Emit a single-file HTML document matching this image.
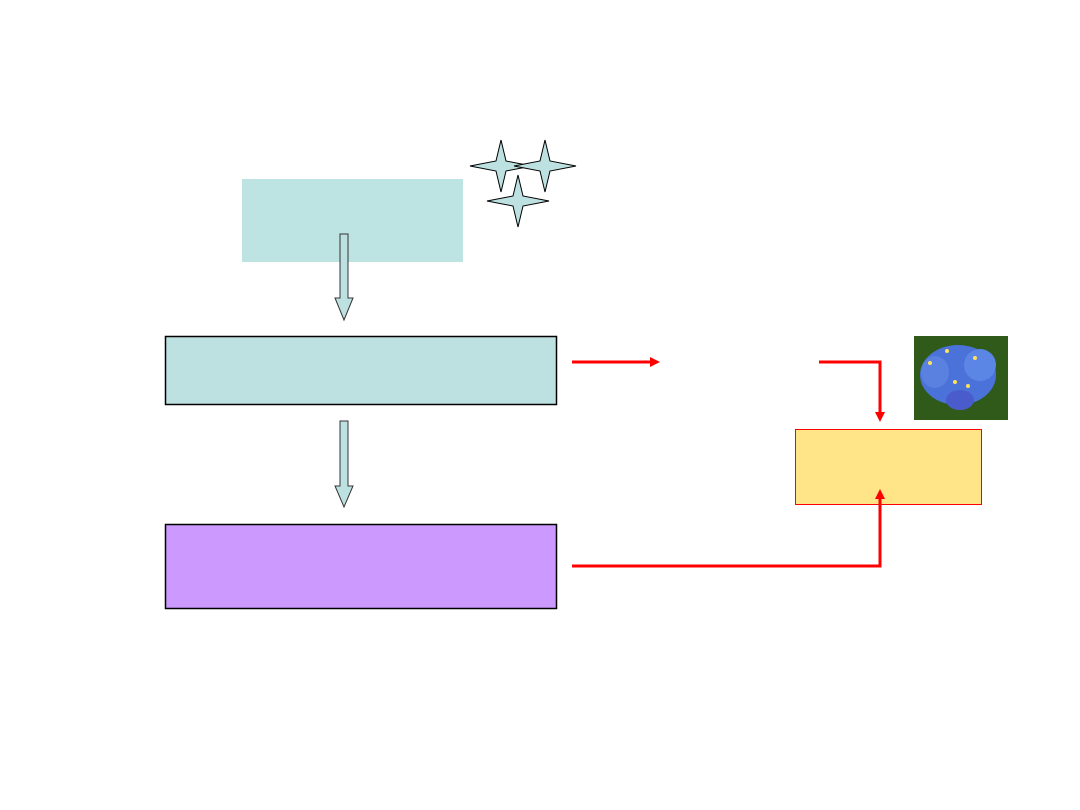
<!DOCTYPE html>
<html><head><style>html,body{margin:0;padding:0;background:#fff;}svg{display:block}</style></head>
<body>
<svg width="1080" height="810" viewBox="0 0 1080 810" xmlns="http://www.w3.org/2000/svg">
<rect x="242" y="179" width="221" height="83" fill="#bde3e3"/>
<path d="M340,234 H348 V298 H353 L344,320 L335,298 H340 Z" fill="#bde1e1" stroke="#333" stroke-width="1"/>
<rect x="165.5" y="336.5" width="391" height="68" fill="#bde1e1" stroke="#000" stroke-width="1.5"/>
<path d="M340,421 H348 V486 H353 L344,507 L335,486 H340 Z" fill="#bde1e1" stroke="#333" stroke-width="1"/>
<rect x="165.5" y="524.5" width="391" height="84" fill="#cc99ff" stroke="#000" stroke-width="1.5"/>
<g fill="#bde1e1" stroke="#000" stroke-width="1">
<path d="M501,140 L506,161 L532,166 L506,171 L501,192 L496,171 L470,166 L496,161 Z"/>
<path d="M545,140 L550,161 L576,166 L550,171 L545,192 L540,171 L514,166 L540,161 Z"/>
<path d="M518,175 L523,196 L549,201 L523,206 L518,227 L513,206 L487,201 L513,196 Z"/>
</g>
<rect x="795.5" y="429.5" width="186" height="75" fill="#ffe488" stroke="#f00" stroke-width="1"/>
<g stroke="#f00" stroke-width="3" fill="none">
<path d="M572,362 H652"/>
<path d="M819,362 H880 V414"/>
<path d="M572,566 H880 V498"/>
</g>
<g fill="#f00">
<path d="M650,357 L660,362 L650,367 Z"/>
<path d="M875,412 L880,422 L885,412 Z"/>
<path d="M875,499 L880,489 L885,499 Z"/>
</g>
<rect x="914" y="336" width="94" height="84" fill="#2f5a1a"/>
<ellipse cx="958" cy="375" rx="38" ry="30" fill="#4a72d8"/>
<ellipse cx="980" cy="365" rx="16" ry="16" fill="#5b86e6"/>
<ellipse cx="935" cy="372" rx="14" ry="16" fill="#5a80e0"/>
<ellipse cx="960" cy="400" rx="14" ry="10" fill="#4a5ccc"/>
<g fill="#ffe060"><circle cx="930" cy="363" r="2"/><circle cx="955" cy="382" r="2"/><circle cx="968" cy="386" r="2"/><circle cx="975" cy="358" r="2"/><circle cx="947" cy="351" r="2"/></g>
</svg>
</body></html>
